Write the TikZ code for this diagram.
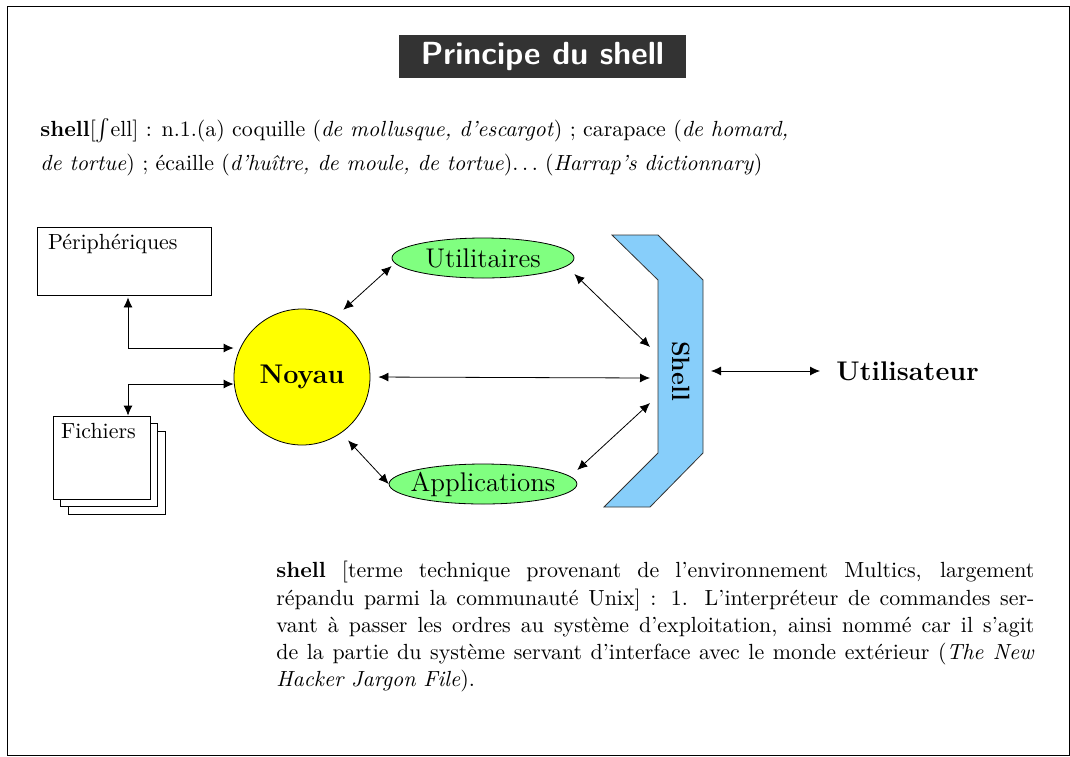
\documentclass[tikz,border=0pt,11pt]{standalone}
\usepackage{amsmath,amssymb}
\usepackage{tikz}
\usetikzlibrary{shapes,               % ellipses
           arrows.meta,               % pointes de flèches
           calc,                      % calculs de coordonnées
           positioning}
\definecolor{fondtitre}{RGB}{51,51,51}
\definecolor{jaune}{RGB}{255,255,0}
\definecolor{vert}{RGB}{128,255,128}
\definecolor{bleu}{RGB}{135,206,250}

\tikzset{
  fleche/.style={<->,>={Latex[length=5pt,width=4.5pt]}},
  boite/.style={draw,fill=white,inner sep=0},
  prog/.style={draw,ellipse,fill=vert,minimum width=91pt,minimum height=20pt,
               inner sep=0,inner xsep=-3pt,font=\fontsize{13.5}{16}\selectfont},
  gras/.style={inner sep=0,font=\fontsize{13.5}{16}\selectfont\bfseries}
}

\begin{document}
\begin{tikzpicture}[x=0.5pt,y=-0.5pt]
\useasboundingbox (0,0) rectangle (1070,756);
\draw (7,6) rectangle (1069,755);
% titre
\node[fill=fondtitre,text=white,font=\sffamily\bfseries\fontsize{16}{19}\selectfont,
      minimum width=143.5pt,minimum height=21.5pt](titre) at (542.5,56.5) {Principe du shell};
% définition du Harrap's
\node[anchor=base west,inner sep=0](harrap1) at (40,136)
     {\textbf{shell}[$\int$ell] : n.1.(a) coquille (\textit{de mollusque, d'escargot}) ; carapace (\textit{de homard,}};
\node[anchor=base west,inner sep=0](harrap2) at (40,170)
     {\textit{de tortue}) ; écaille (\textit{d'huître, de moule, de tortue})$\ldots$ (\textit{Harrap's dictionnary})};
% périphériques et fichiers
\node[boite,minimum width=87pt,minimum height=34pt](periph) at (124,261) {};
\node[anchor=north west,inner sep=0](periphtxt) at ([xshift=5.5pt,yshift=-3.5pt]periph.north west) {Périphériques};
\node[boite,minimum width=48.5pt,minimum height=41.5pt](fich3) at (116.5,472.5) {};
\node[boite,minimum width=48.5pt,minimum height=41.5pt](fich2) at (109,465) {};
\node[boite,minimum width=48.5pt,minimum height=41.5pt](fichiers) at (101.5,457.5) {};
\node[anchor=north west,inner sep=0](fichtxt) at ([xshift=4pt,yshift=-3.5pt]fichiers.north west) {Fichiers};
% noyau et programmes
\node[circle,draw,fill=jaune,minimum size=68pt,gras](noyau) at (302,377) {Noyau};
\node[prog](utilit) at (483,258) {Utilitaires};
\node[prog](applis) at (483,484) {Applications};
% la carapace
\draw[draw=black!80,fill=bleu] (612,235) -- (658,235) -- (703,280) -- (703,453)
     -- (650,507) -- (604,507) -- (658,453) -- (658,280) -- cycle;
\node[rotate=-90,inner sep=0,font=\fontsize{12.5}{15}\selectfont\bfseries](shell) at (681,371) {Shell};
\coordinate (shA) at (650,347);
\coordinate (shB) at (650,378);
\coordinate (shC) at (650,403);
\coordinate (shD) at (711,371);
\node[anchor=west,gras](usager) at (836,371) {Utilisateur};
% flèches
\draw[fleche,shorten <=5.5pt] (noyau.61) -- ([yshift=-4pt]utilit.west);
\draw[fleche,shorten <=5pt] (noyau.-55) -- (applis.west);
\draw[fleche,shorten <=4pt] (noyau.east) -- (shB);
\draw[fleche] ([yshift=-8pt]utilit.east) -- (shA);
\draw[fleche] ([yshift=7pt]applis.east) -- (shC);
\draw[fleche,shorten >=8pt] (shD) -- (usager.west);
\draw[fleche] ([xshift=2pt,yshift=-1pt]periph.south) |- ([yshift=14.5pt]noyau.west);
\draw[fleche] ([xshift=13.25pt]fichiers.north) |- ([yshift=-3.5pt]noyau.west);
% définition du Jargon File
\node[anchor=north west,inner sep=0,text width=379pt,align=justify](jargon) at (276,561)
     {\textbf{shell} [terme technique provenant de l'environnement Multics, largement\linebreak
      répandu parmi la communauté Unix] : 1. L'interpréteur de commandes ser-\linebreak
      vant à passer les ordres au système d'exploitation, ainsi nommé car il s'agit\linebreak
      de la partie du système servant d'interface avec le monde extérieur (\textit{The New}\linebreak
      \textit{Hacker Jargon File}).};
\end{tikzpicture}
\end{document}
